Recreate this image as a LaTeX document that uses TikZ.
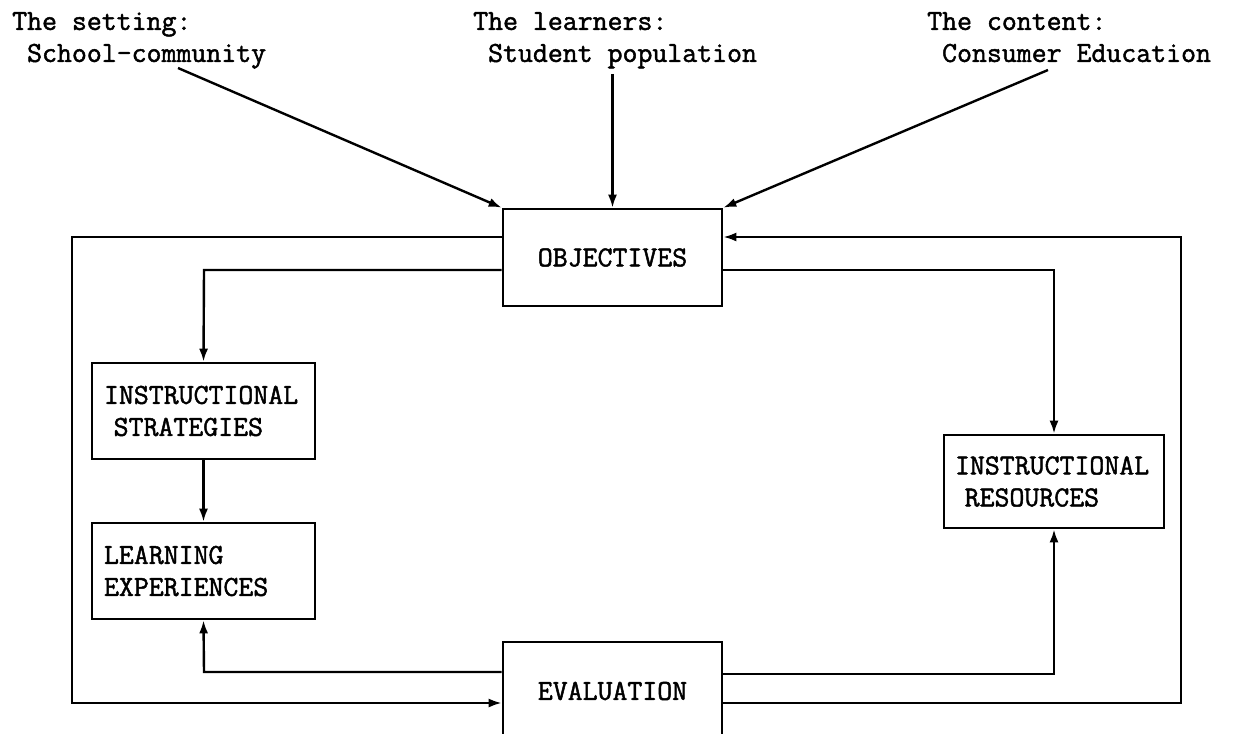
\documentclass[tikz,border=0pt]{standalone}
\usepackage{fontspec}
\newfontfamily\dtmono{Latin Modern Mono}[FakeBold=1.6]
\usetikzlibrary{arrows.meta}
\newcommand\dtfont{\fontsize{29}{32}\selectfont\dtmono}
\begin{document}
\begin{tikzpicture}[x=1pt,y=-1pt,
  box/.style={draw, line width=2.6pt, inner ysep=0pt, font=\dtfont},
  lbox/.style={box, align=left, text width=199pt, inner xsep=12pt, minimum height=96pt},
  cbox/.style={box, minimum width=219pt, minimum height=97pt},
  lbl/.style={font=\dtfont, align=left, inner sep=0pt, anchor=north west},
  conn/.style={line width=2.4pt},
  arr/.style={conn, -{Latex[length=13pt,width=9pt]}}]
\useasboundingbox (0,0) rectangle (1233,733);
\clip (0,0) rectangle (1233,733);

% top labels
\node[lbl] (setting) at (12,12) {The setting:\\~School-community};
\node[lbl] (learners) at (473,12) {The learners:\\~Student population};
\node[lbl] (content) at (927,12) {The content:\\~Consumer Education};

% boxes
\node[cbox] (obj) at (612.5,257.5) {OBJECTIVES};
\node[lbox] (strat) at (203.5,411) {INSTRUCTIONAL\\~STRATEGIES};
\node[lbox] (learn) at (203.5,571) {LEARNING\\EXPERIENCES};
\node[box, align=left, text width=198pt, inner xsep=11pt, minimum height=93pt] (res) at (1054,481.5) {INSTRUCTIONAL\\~RESOURCES};
\node[box, minimum width=219pt, minimum height=98pt] (eval) at (612.5,691) {EVALUATION};

% free ends and corners
\coordinate (s1) at (178,68);
\coordinate (s2) at (612.5,74);
\coordinate (s3) at (1048,70);
\coordinate (oL) at (72,237);
\coordinate (oB) at (72,703);
\coordinate (iL) at (204,270);
\coordinate (eL) at (204,672);
\coordinate (oR) at (1181,237);
\coordinate (oRB) at (1181,703);
\coordinate (iR) at (1054,270);
\coordinate (eR) at (1054,674);

% input arrows
\draw[arr] (s1) -- (obj.north west);
\draw[arr] (s2) -- (obj.north);
\draw[arr] (s3) -- (obj.north east);

% left side
\draw[arr] (obj.west |- oL) -- (oL) -- (oB) -- (eval.west |- oB);
\draw[arr] (obj.west |- iL) -- (iL) -- (strat.north);
\draw[arr] (strat.south) -- (learn.north);
\draw[arr] (eval.west |- eL) -- (eL) -- (learn.south);

% right side
\draw[arr] (eval.east |- oRB) -- (oRB) -- (oR) -- (obj.east |- oR);
\draw[arr] (obj.east |- iR) -- (iR) -- (res.north);
\draw[arr] (eval.east |- eR) -- (eR) -- (res.south);
\end{tikzpicture}
\end{document}
